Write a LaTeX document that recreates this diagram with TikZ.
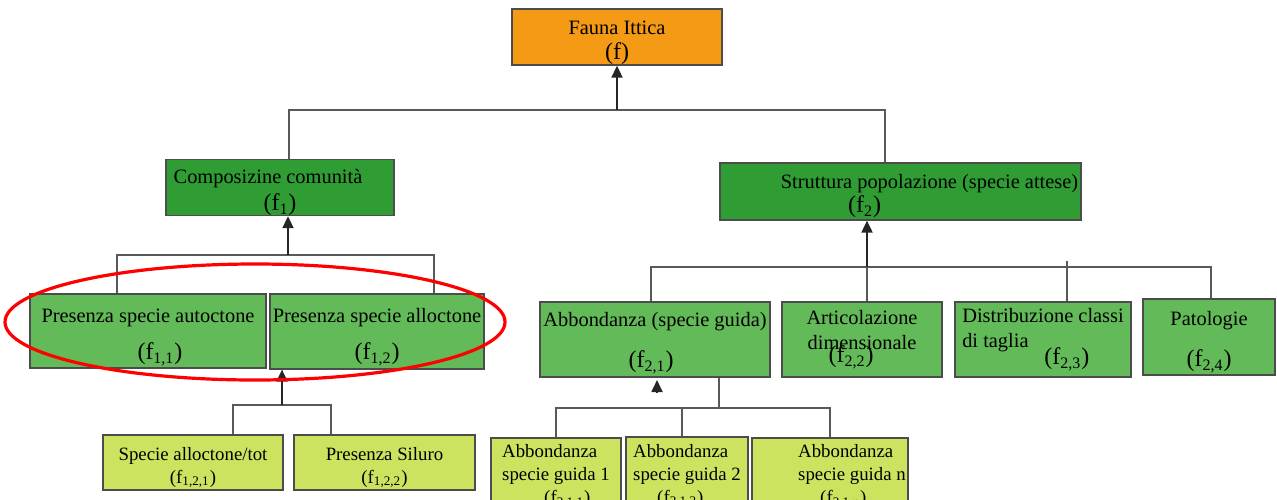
\documentclass[tikz,border=0pt]{standalone}
\usepackage{fontspec}
\setmainfont{Liberation Serif}
\usetikzlibrary{arrows.meta}
\definecolor{orangebox}{HTML}{F49A14}
\definecolor{darkbox}{HTML}{2F9D33}
\definecolor{midbox}{HTML}{63BA58}
\definecolor{limebox}{HTML}{CCE360}
\newcommand\topgap[1]{\rule{0pt}{#1}}
\tikzset{
  boxnode/.style={draw=black!70, line width=0.6pt, inner sep=0pt, align=center,
    font=\fontsize{10.2}{12.5}\selectfont},
  smallbox/.style={boxnode, fill=limebox, font=\fontsize{9.4}{11.5}\selectfont},
  link/.style={draw=black!65, line width=0.6pt},
  uplink/.style={->, draw=black!85, line width=0.9pt},
}
\begin{document}
\begin{tikzpicture}[x=0.5pt, y=-0.5pt, >={Triangle[width=5.5pt,length=6pt]}]
	\useasboundingbox (0,0) rectangle (1277,499);
	% top level
	\node[boxnode, fill=orangebox, minimum width=105pt, minimum height=28pt] (f) at (617,37) {\topgap{13pt}Fauna Ittica\\{\large(f)}};
	\node[boxnode, fill=darkbox, minimum width=114pt, minimum height=27.5pt] (f1) at (280,187.5) {\topgap{12pt}Composizine comunità\hspace*{12pt}\\[1pt]{\large(f\textsubscript{1})}};
	\node[boxnode, fill=darkbox, minimum width=180.5pt, minimum height=28.5pt] (f2) at (900.5,191.5) {\topgap{12pt}\hspace*{29pt}Struttura popolazione (specie attese)\\[-0.5pt]{\large(f\textsubscript{2})}\hspace*{36pt}};
	% second level
	\node[boxnode, fill=midbox, minimum width=118pt, minimum height=37pt] (f11) at (148,331) {\topgap{13pt}Presenza specie autoctone\\[6pt]\hspace*{12pt}{\large(f\textsubscript{1,1})}};
	\node[boxnode, fill=midbox, minimum width=107pt, minimum height=37.5pt] (f12) at (377,331.5) {\topgap{13pt}Presenza specie alloctone\\[6pt]{\large(f\textsubscript{1,2})}};
	\node[boxnode, fill=midbox, minimum width=115pt, minimum height=37.5pt] (f21) at (655,339.5) {\topgap{11pt}Abbondanza (specie guida)\\[8pt]{\large(f\textsubscript{2,1})}\hspace*{4pt}};
	\node[boxnode, fill=midbox, minimum width=80pt, minimum height=37.5pt] (f22) at (862,339.5) {Articolazione\\dimensionale\\[-6pt]{\large(f\textsubscript{2,2})}\hspace*{11pt}};
	\node[boxnode, fill=midbox, align=left, minimum width=88pt, minimum height=37.5pt] (f23) at (1043,339.5) {Distribuzione classi\\di taglia\\[-4pt]\hspace*{41pt}{\large(f\textsubscript{2,3})}};
	\node[boxnode, fill=midbox, minimum width=66pt, minimum height=38pt] (f24) at (1209,337) {\topgap{12pt}Patologie\\[8pt]{\large(f\textsubscript{2,4})}};
	% third level
	\node[smallbox, minimum width=90pt, minimum height=27.5pt] (f121) at (193,462.5) {\topgap{11.5pt}Specie alloctone/tot\\(f\textsubscript{1,2,1})};
	\node[smallbox, minimum width=90.5pt, minimum height=27.5pt] (f122) at (384.5,462.5) {\topgap{11.5pt}Presenza Siluro\\(f\textsubscript{1,2,2})};
	\node[smallbox, align=left, minimum width=65pt, minimum height=38.5pt] (f211) at (556,476.5) {Abbondanza\\specie guida 1\\\hspace*{21pt}(f\textsubscript{2,1,1})};
	\node[smallbox, align=left, minimum width=61pt, minimum height=39pt] (f212) at (687,476) {Abbondanza\\specie guida 2\\\hspace*{12pt}(f\textsubscript{2,1,2})};
	\node[smallbox, align=left, minimum width=78pt, minimum height=38.5pt] (f21n) at (830,476.5) {\hspace*{22pt}Abbondanza\\\hspace*{22pt}specie guida n\\\hspace*{33pt}(f\textsubscript{2,1,n})};
	% junctions
	\coordinate (jf) at (617,110);
	\coordinate (j1) at (288,255);
	\coordinate (j2) at (867,267);
	\coordinate (j12) at (282,405);
	\coordinate (j21) at (719,408);
	\coordinate (s21) at (657,393);
	\coordinate (t21) at (657,380);
	% connectors
	\draw[link] ([xshift=4.5pt]f1.north) |- (jf) -| ([xshift=-7.75pt]f2.north);
	\draw[uplink] (jf) -- (f);
	\draw[link] ([xshift=-15.5pt]f11.north) |- (j1) -| ([xshift=28.5pt]f12.north);
	\draw[uplink] (j1) -- (j1 |- f1.south);
	\draw[link] ([xshift=-2pt]f21.north) |- (j2) -| ([xshift=1pt]f24.north);
	\draw[link] (j2) -- (j2 |- f22.north);
	\draw[link] ([xshift=12pt]f23.north) -- ++(0,-40);
	\draw[uplink] (j2) -- (j2 |- f2.south);
	\draw[link] ([xshift=20pt]f121.north) |- (j12) -| ([xshift=-26.75pt]f122.north);
	\draw[uplink] (j12) -- (j12 |- f12.south);
	\draw[link] (f211.north) |- (j21) -| (f21n.north);
	\draw[link] ([xshift=-2.5pt]f212.north) -- ([xshift=-2.5pt]f212.north |- j21);
	\draw[link] (j21) -- (j21 |- f21.south);
	\draw[uplink] (s21) -- (t21);
	% red ring
	\draw[red, line width=1.6pt] (255,322) ellipse [x radius=125pt, y radius=29pt];
\end{tikzpicture}
\end{document}
